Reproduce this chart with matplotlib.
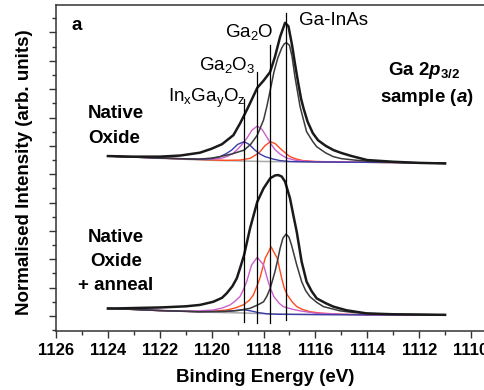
import matplotlib
matplotlib.use("Agg")
import matplotlib.pyplot as plt
from matplotlib.ticker import MultipleLocator

plt.rcParams["font.family"] = ["Liberation Sans", "DejaVu Sans"]
plt.rcParams["mathtext.fontset"] = "custom"
plt.rcParams["mathtext.rm"] = "Liberation Sans"
plt.rcParams["mathtext.it"] = "Liberation Sans:italic"
plt.rcParams["mathtext.bf"] = "Liberation Sans:bold"
plt.rcParams["mathtext.bfit"] = "Liberation Sans:bold:italic"

# ---- native oxide (upper trace, offset) ----
top_env_e = [1124.0, 1123.0, 1122.0, 1121.2, 1120.45, 1120.0, 1119.6, 1119.16, 1118.9,
             1118.6, 1118.24, 1118.0, 1117.75, 1117.56, 1117.36, 1117.17, 1117.04,
             1116.9, 1116.79, 1116.66, 1116.55, 1116.45, 1116.3, 1116.1, 1115.9,
             1115.6, 1115.3, 1115.0, 1114.6, 1114.0, 1113.0, 1112.0, 1111.0]
top_env = [5.64, 5.62, 5.62, 5.66, 5.76, 5.90, 6.06, 6.38, 6.80, 7.35, 8.05, 8.30, 8.60,
           9.14, 9.85, 10.34, 10.22, 9.55, 8.91, 8.20, 7.65, 7.30, 6.85, 6.45, 6.20,
           6.00, 5.85, 5.75, 5.64, 5.50, 5.44, 5.40, 5.38]

top_bg_e = [1124, 1122, 1120, 1119, 1118, 1117, 1116, 1114, 1111]
top_bg = [5.64, 5.56, 5.49, 5.47, 5.45, 5.44, 5.43, 5.42, 5.40]

top_inas_e = [1124, 1122, 1120.5, 1120.0, 1119.68, 1119.2, 1118.75, 1118.5, 1118.24,
              1118.0, 1117.87, 1117.74, 1117.6, 1117.45, 1117.3, 1117.2, 1117.12,
              1117.0, 1116.9, 1116.79, 1116.59, 1116.34, 1116.1, 1115.95, 1115.6,
              1115.31, 1115.0, 1114.5, 1114.0, 1113.0, 1111.0]
top_inas = [5.64, 5.57, 5.53, 5.57, 5.62, 5.72, 5.85, 6.05, 6.38, 6.91, 7.40, 7.97,
            8.60, 9.10, 9.45, 9.60, 9.64, 9.55, 9.15, 8.44, 7.38, 6.50, 6.15, 5.97,
            5.75, 5.62, 5.55, 5.50, 5.46, 5.42, 5.38]

top_ga2o3_e = [1124, 1122, 1120.5, 1120.0, 1119.6, 1119.42, 1119.2, 1119.03, 1118.85,
               1118.65, 1118.45, 1118.24, 1118.05, 1117.88, 1117.7, 1117.56, 1117.35,
               1117.11, 1116.7, 1116.0, 1114.0, 1111.0]
top_ga2o3 = [5.64, 5.57, 5.53, 5.53, 5.57, 5.62, 5.72, 5.85, 6.03, 6.26, 6.55, 6.70,
             6.57, 6.32, 6.05, 5.87, 5.70, 5.57, 5.48, 5.44, 5.42, 5.40]

top_ingao_e = [1124, 1122, 1120.5, 1120.0, 1119.68, 1119.45, 1119.23, 1119.0, 1118.75,
               1118.55, 1118.33, 1118.15, 1117.94, 1117.65, 1117.36, 1117.0, 1116.5,
               1115.5, 1114.0, 1111.0]
top_ingao = [5.64, 5.57, 5.53, 5.55, 5.62, 5.72, 5.85, 6.05, 6.15, 6.05, 5.85, 5.72,
             5.62, 5.54, 5.48, 5.45, 5.44, 5.43, 5.42, 5.40]

top_ga2o_e = [1124, 1122, 1120.5, 1119.5, 1118.9, 1118.52, 1118.3, 1118.14, 1117.95,
              1117.74, 1117.55, 1117.36, 1117.17, 1116.98, 1116.75, 1116.47, 1116.0,
              1115.0, 1114.0, 1111.0]
top_ga2o = [5.64, 5.57, 5.52, 5.49, 5.50, 5.56, 5.68, 5.79, 6.00, 6.15, 6.08, 5.91,
            5.76, 5.62, 5.54, 5.48, 5.45, 5.43, 5.42, 5.40]

# ---- native oxide + anneal (lower trace) ----
bot_env_e = [1124, 1123, 1122, 1121.73, 1121, 1120.45, 1119.94, 1119.6, 1119.42, 1119.2,
             1119.03, 1118.9, 1118.75, 1118.52, 1118.24, 1118.0, 1117.74, 1117.55,
             1117.43, 1117.3, 1117.17, 1116.98, 1116.85, 1116.72, 1116.6, 1116.53,
             1116.34, 1116.15, 1115.95, 1115.6, 1115.31, 1114.8, 1114.02, 1113, 1112, 1111]
bot_env = [0.26, 0.28, 0.30, 0.31, 0.34, 0.39, 0.50, 0.64, 0.80, 1.05, 1.33, 1.70, 2.15,
           3.09, 4.03, 4.50, 4.86, 4.96, 4.97, 4.92, 4.74, 4.15, 3.55, 2.97, 2.30, 1.91,
           1.21, 0.88, 0.62, 0.45, 0.33, 0.20, 0.09, 0.06, 0.05, 0.04]

bot_bg_e = [1124, 1122, 1120, 1119, 1118, 1117, 1116, 1114, 1111]
bot_bg = [0.27, 0.19, 0.13, 0.11, 0.08, 0.06, 0.05, 0.04, 0.04]

bot_inas_e = [1124, 1122, 1120.5, 1119.5, 1119.0, 1118.52, 1118.2, 1118.0, 1117.87,
              1117.74, 1117.56, 1117.45, 1117.36, 1117.25, 1117.13, 1117.02, 1116.92,
              1116.72, 1116.53, 1116.38, 1116.21, 1115.95, 1115.69, 1115.05, 1114.5,
              1114.0, 1113, 1111]
bot_inas = [0.27, 0.19, 0.15, 0.16, 0.19, 0.27, 0.40, 0.50, 0.70, 0.98, 1.56, 2.00, 2.39,
            2.75, 2.89, 2.78, 2.50, 1.80, 1.21, 0.90, 0.68, 0.48, 0.33, 0.18, 0.12, 0.09,
            0.06, 0.04]

bot_ga2o3_e = [1124, 1122, 1121, 1120.5, 1119.94, 1119.6, 1119.29, 1119.1, 1118.91,
               1118.78, 1118.65, 1118.46, 1118.24, 1118.0, 1117.82, 1117.7, 1117.6,
               1117.4, 1117.24, 1116.9, 1116.59, 1116.0, 1115.0, 1114, 1111]
bot_ga2o3 = [0.27, 0.20, 0.17, 0.18, 0.21, 0.28, 0.39, 0.52, 0.68, 0.92, 1.21, 1.80,
             2.07, 1.80, 1.21, 0.90, 0.68, 0.45, 0.33, 0.24, 0.18, 0.10, 0.06, 0.04, 0.04]

bot_ga2o_e = [1124, 1122, 1120.5, 1119.9, 1119.42, 1119.1, 1118.78, 1118.55, 1118.39,
              1118.14, 1117.94, 1117.71, 1117.47, 1117.30, 1117.2, 1117.08, 1116.9,
              1116.72, 1116.5, 1116.21, 1115.8, 1115.0, 1114, 1111]
bot_ga2o = [0.27, 0.19, 0.15, 0.17, 0.21, 0.28, 0.39, 0.55, 0.74, 1.33, 2.03, 2.44, 2.03,
            1.33, 0.98, 0.74, 0.50, 0.33, 0.23, 0.15, 0.10, 0.06, 0.04, 0.04]

bot_ingao_e = [1124, 1122, 1120.45, 1119.5, 1119.0, 1118.75, 1118.5, 1118.2, 1117.9,
               1117.5, 1116, 1114, 1111]
bot_ingao = [0.27, 0.19, 0.15, 0.16, 0.20, 0.22, 0.18, 0.12, 0.08, 0.06, 0.05, 0.04, 0.04]

# peak positions of the fitted components: (energy, bottom, top)
peak_lines = [(1118.75, -0.20, 7.65), (1118.24, -0.24, 8.61),
              (1117.74, -0.26, 9.56), (1117.12, -0.14, 10.67)]

fig = plt.figure(figsize=(4.85, 3.90), dpi=100)
ax = fig.add_axes([0.1155, 0.1513, 0.9627, 0.8359])

c_bg = "#a8a8a8"
c_inas = "#3a3a3a"
c_ga2o3 = "#cc5fcc"
c_ga2o = "#ff4a1c"
c_ingao = "#3c3caa"

for e, v in [(top_bg_e, top_bg), (bot_bg_e, bot_bg)]:
    ax.plot(e, v, color=c_bg, lw=1.1)
for e, v in [(top_ga2o_e, top_ga2o), (bot_ga2o_e, bot_ga2o)]:
    ax.plot(e, v, color=c_ga2o, lw=1.0)
for e, v in [(top_ga2o3_e, top_ga2o3), (bot_ga2o3_e, bot_ga2o3)]:
    ax.plot(e, v, color=c_ga2o3, lw=1.0)
for e, v in [(top_ingao_e, top_ingao), (bot_ingao_e, bot_ingao)]:
    ax.plot(e, v, color=c_ingao, lw=1.0)
for e, v in [(top_inas_e, top_inas), (bot_inas_e, bot_inas)]:
    ax.plot(e, v, color=c_inas, lw=1.1)
for e, v in [(top_env_e, top_env), (bot_env_e, bot_env)]:
    ax.plot(e, v, color="#1a1a1a", lw=1.8)

for e, y0, y1 in peak_lines:
    ax.plot([e, e], [y0, y1], color="black", lw=0.9)

ax.set_xlim(1126, 1108)
ax.set_ylim(-0.53, 10.97)
ax.xaxis.set_major_locator(MultipleLocator(2))
ax.xaxis.set_minor_locator(MultipleLocator(1))
ax.yaxis.set_major_locator(MultipleLocator(1))
ax.yaxis.set_minor_locator(MultipleLocator(0.5))
ax.set_yticklabels([])
ax.tick_params(which="major", length=5, width=1.0, color="#333333",
               labelsize=12, pad=4)
ax.tick_params(which="minor", length=3, width=1.0, color="#333333")
for lab in ax.get_xticklabels():
    lab.set_fontweight("bold")
for sp in ax.spines.values():
    sp.set_linewidth(1.1)
    sp.set_color("#333333")

fig.text(265 / 485, 1 - 377 / 390, "Binding Energy (eV)", ha="center", va="center",
         fontsize=13.5, fontweight="bold")
fig.text(25 / 485, 1 - 172 / 390, "Normalised Intensity (arb. units)", ha="center",
         va="center", rotation=90, fontsize=13.5, fontweight="bold")

ax.text(1125.19, 10.26, "a", ha="center", va="center", fontsize=13.5, fontweight="bold")
ax.text(1123.69, 6.70, "Native\nOxide", ha="center", va="center", fontsize=13.5,
        fontweight="bold", multialignment="left", linespacing=1.55)
ax.text(1123.69, 1.93, "Native\nOxide\n+ anneal", ha="center", va="center",
        fontsize=13.5, fontweight="bold", multialignment="center", linespacing=1.55)
ax.text(1111.81, 8.50, r"Ga 2$\mathbfit{p}_{\mathbf{3/2}}$", ha="center", va="baseline",
        fontsize=13.5, fontweight="bold")
ax.text(1111.70, 7.55, r"sample ($\mathbfit{a}$)", ha="center", va="baseline",
        fontsize=13.5, fontweight="bold")

ax.text(1115.30, 10.44, "Ga-InAs", ha="center", va="center", fontsize=13.5)
ax.text(1118.56, 9.84, r"Ga$_2$O", ha="center", va="baseline", fontsize=13.5)
ax.text(1119.39, 8.67, r"Ga$_2$O$_3$", ha="center", va="baseline", fontsize=13.5)
ax.text(1120.18, 7.56, r"In$_\mathrm{x}$Ga$_\mathrm{y}$O$_\mathrm{z}$", ha="center",
        va="baseline", fontsize=13.5)

fig.savefig("out.png", dpi=100)
